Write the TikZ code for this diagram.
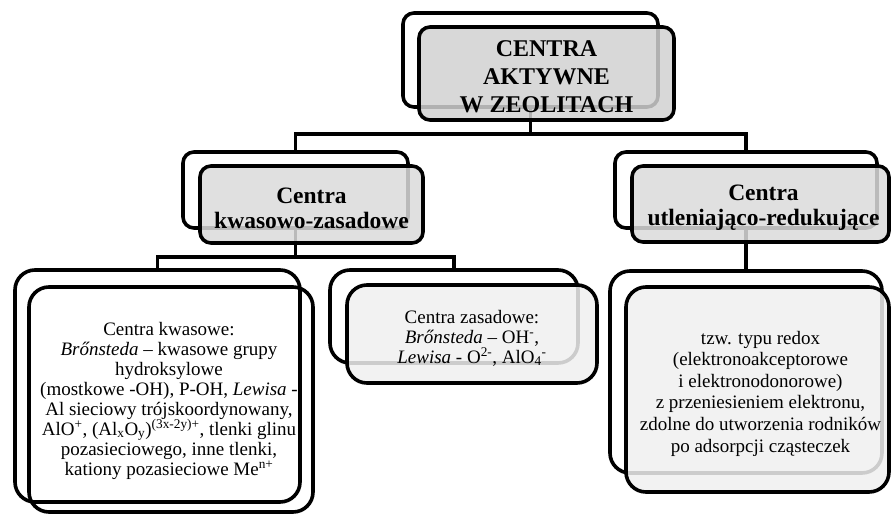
\documentclass[tikz,border=0pt]{standalone}
\usepackage{fontspec}
\setmainfont{Liberation Serif}
\begin{document}
\begin{tikzpicture}[x=1pt,y=-1pt,
  frame/.style={draw=black, line width=3.6pt, rectangle, inner sep=0pt, outer sep=0pt},
  backsmall/.style={frame, rounded corners=11pt},
  backbig/.style={frame, rounded corners=20pt},
  frontsmall/.style={frame, rounded corners=11pt, fill opacity=0.85},
  frontbig/.style={frame, rounded corners=20pt, fill opacity=0.85},
  conn/.style={draw=black, line width=3.6pt, line join=miter},
  toptext/.style={align=center, inner sep=0pt, font=\fontsize{24}{28}\selectfont\bfseries},
  midtext/.style={align=center, inner sep=0pt, font=\fontsize{23.5}{25}\selectfont\bfseries},
  lowtext/.style={align=center, inner sep=0pt, font=\fontsize{19}{20}\selectfont},
  redoxtext/.style={align=center, inner sep=0pt, font=\fontsize{19}{21.6}\selectfont},
]
\useasboundingbox (0,0) rectangle (892,517);

% back frames
\node[backsmall, minimum width=255pt, minimum height=94pt] (b0) at (530.5,60) {};
\node[backsmall, minimum width=225pt, minimum height=76pt] (b1) at (295.5,190) {};
\node[backsmall, minimum width=262pt, minimum height=76pt] (b2) at (746,190) {};
\node[backbig, minimum width=285pt, minimum height=232pt] (b3) at (157.5,386) {};
\node[backbig, minimum width=248pt, minimum height=93pt] (b4) at (454,316.5) {};
\node[backbig, minimum width=272pt, minimum height=202pt] (b5) at (746,372) {};

% connectors
\coordinate (j0) at (530.5,134);
\coordinate (j1) at (295.5,257);
\draw[conn] (b0.south) -- (j0);
\draw[conn] (b1.north) |- (j0) -| (b2.north);
\draw[conn] (b1.south) -- (j1);
\draw[conn] (b3.north) |- (j1) -| (b4.north);
\draw[conn] (b2.south) -- (b5.north);

% front boxes
\node[frontsmall, fill=black!18, minimum width=255pt, minimum height=93pt] (f0) at (546.5,73.5) {};
\node[frontsmall, fill=black!14, minimum width=223pt, minimum height=77pt] (f1) at (311.5,204.5) {};
\node[frontsmall, fill=black!14, minimum width=257pt, minimum height=76pt] (f2) at (760.5,204) {};
\node[frontbig, minimum width=284pt, minimum height=225pt] (f3) at (171,399.5) {};
\node[frontbig, fill=black!6, minimum width=250pt, minimum height=98pt] (f4) at (472,334) {};
\node[frontbig, fill=black!6, minimum width=263pt, minimum height=205pt] (f5) at (757.5,389.5) {};

% texts
\node[toptext] (t0) at ([yshift=-3.5pt]f0.center) {CENTRA\\AKTYWNE\\W ZEOLITACH};
\node[midtext] (t1) at ([yshift=-4pt]f1.center) {Centra\\kwasowo-zasadowe};
\node[midtext] (t2) at ([xshift=3pt,yshift=-4pt]f2.center) {Centra\\utleniająco-redukujące};
\node[lowtext] (t3) at ([xshift=-2pt,yshift=-1pt]f3.center)
  {Centra kwasowe:\\
   \textit{Brőnsteda} – kwasowe grupy\\
   hydroksylowe\\
   (mostkowe -OH), P-OH, \textit{Lewisa} -\\
   Al sieciowy trójskoordynowany,\\
   AlO\textsuperscript{+}, (Al\textsubscript{x}O\textsubscript{y})\textsuperscript{(3x-2y)+}, tlenki glinu\\
   pozasieciowego, inne tlenki,\\
   kationy pozasieciowe Me\textsuperscript{n+}};
\node[lowtext] (t4) at ([yshift=-4pt]f4.center)
  {Centra zasadowe:\\
   \textit{Brőnsteda} – OH\textsuperscript{-},\\
   \textit{Lewisa} - O\textsuperscript{2-}, AlO\textsubscript{4}\textsuperscript{-}};
\node[redoxtext] (t5) at ([xshift=3pt,yshift=-4pt]f5.center)
  {tzw. typu redox\\
   (elektronoakceptorowe\\
   i elektronodonorowe)\\
   z przeniesieniem elektronu,\\
   zdolne do utworzenia rodników\\
   po adsorpcji cząsteczek};
\end{tikzpicture}
\end{document}
